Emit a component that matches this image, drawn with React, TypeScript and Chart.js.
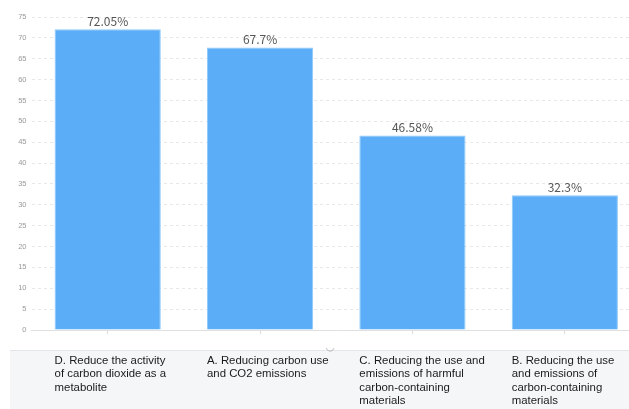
import React, { useEffect, useRef } from "react";
import { Chart, registerables } from "chart.js";

Chart.register(...registerables);

const categories: string[][] = [
  ["D. Reduce the activity", "of carbon dioxide as a", "metabolite"],
  ["A. Reducing carbon use", "and CO2 emissions"],
  ["C. Reducing the use and", "emissions of harmful", "carbon-containing", "materials"],
  ["B. Reducing the use", "and emissions of", "carbon-containing", "materials"],
];
const values: number[] = [72.05, 67.7, 46.58, 32.3];
const valueLabels: string[] = ["72.05%", "67.7%", "46.58%", "32.3%"];
const yMax = 75;
const yStep = 5;

const overlayPlugin = {
  id: "overlay",
  beforeDraw(chart: any) {
    const ctx = chart.ctx;
    ctx.save();
    ctx.fillStyle = "#f5f6f8";
    ctx.fillRect(10, 351, chart.width - 10, chart.height - 351);
    ctx.strokeStyle = "#e3e5e9";
    ctx.lineWidth = 1;
    ctx.beginPath();
    ctx.moveTo(10, 350.5);
    ctx.lineTo(chart.width, 350.5);
    ctx.stroke();
    ctx.restore();
  },
  afterDraw(chart: any) {
    const ctx = chart.ctx;
    const meta = chart.getDatasetMeta(0);
    ctx.save();
    meta.data.forEach((bar: any, i: number) => {
      ctx.fillStyle = "#555";
      ctx.font = "12px 'Noto Sans CJK SC', 'Liberation Sans', sans-serif";
      ctx.textAlign = "center";
      ctx.textBaseline = "alphabetic";
      ctx.fillText(valueLabels[i], bar.x, bar.y - 3.5);
      const left = bar.x - bar.width / 2;
      ctx.fillStyle = "#1a1a1a";
      ctx.font = "11.4px 'Liberation Sans', Arial, sans-serif";
      ctx.textAlign = "left";
      ctx.textBaseline = "middle";
      categories[i].forEach((line, j) => {
        ctx.fillText(line, left, 361 + j * 13.3);
      });
    });
    // small loading arc
    ctx.strokeStyle = "#b8b8b8";
    ctx.lineWidth = 1;
    ctx.beginPath();
    ctx.arc(330, 347, 4, 0.1 * Math.PI, 0.9 * Math.PI);
    ctx.stroke();
    ctx.restore();
  },
};

export default function App() {
  const ref = useRef<HTMLCanvasElement | null>(null);
  useEffect(() => {
    if (!ref.current) return;
    const chart = new Chart(ref.current, {
      type: "bar",
      data: {
        labels: categories.map((c) => c.join(" ")),
        datasets: [
          {
            data: values,
            backgroundColor: "#5aadf6",
            borderColor: "#8ec9fa",
            borderWidth: 1,
            categoryPercentage: 1,
            barPercentage: 0.697,
          },
        ],
      },
      options: {
        responsive: false,
        animation: false,
        layout: { padding: { top: 17, left: 0, right: 0, bottom: 0 } },
        plugins: { legend: { display: false }, tooltip: { enabled: false } },
        scales: {
          x: {
            offset: true,
            grid: {
              offset: false,
              drawOnChartArea: false,
              drawTicks: true,
              tickLength: 4,
              color: "#dcdcdc",
            },
            border: { display: true, color: "#e0e0e0" },
            ticks: { display: false },
            afterFit: (s: any) => {
              s.height = 79;
            },
          },
          y: {
            min: 0,
            max: yMax,
            ticks: {
              stepSize: yStep,
              color: "#999",
              padding: 5,
              font: { size: 7.5, family: "'Liberation Sans', Arial, sans-serif" },
            },
            grid: {
              drawTicks: false,
              color: (c: any) => (c.tick && c.tick.value === 0 ? "#e0e0e0" : "#e8e8e8"),
              lineWidth: 1,
            },
            border: { display: false, dash: [3, 3] },
            afterFit: (s: any) => {
              s.width = 31.5;
            },
          },
        },
      },
      plugins: [overlayPlugin],
    });
    return () => chart.destroy();
  }, []);
  return (
    <div
      style={{
        position: "fixed",
        left: 0,
        top: 0,
        width: 629,
        height: 409,
        overflow: "hidden",
        background: "#fff",
      }}
    >
      <canvas ref={ref} width={641} height={409} style={{ width: 641, height: 409, display: "block" }} />
    </div>
  );
}
